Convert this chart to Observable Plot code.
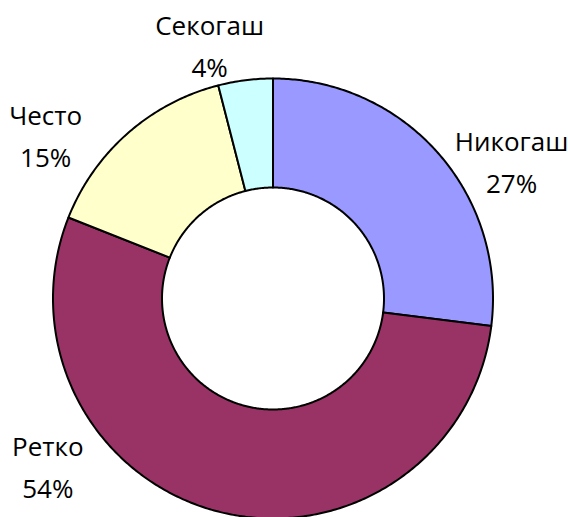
<!DOCTYPE html>
<html>
<head>
<meta charset="utf-8">
<script src="https://cdn.jsdelivr.net/npm/d3@7"></script>
<script src="https://cdn.jsdelivr.net/npm/@observablehq/plot@0.6"></script>
<style>
  html, body { margin: 0; padding: 0; background: #ffffff; }
  #chart svg { display: block; overflow: visible; }
</style>
</head>
<body>
<div id="chart"></div>
<script>
// Data
const categories = ["Никогаш", "Ретко", "Често", "Секогаш"];
const percents = [27, 54, 15, 4];
const labels = ["Никогаш\n27%", "Ретко\n54%", "Често\n15%", "Секогаш\n4%"];
const colors = ["#9999FF", "#993366", "#FFFFCC", "#CCFFFF"];
// label nudges (pixels, y up) away from the mid-angle anchor
const labelNudge = [[51, -25], [-163, 77], [-62, -22], [-32, 8]];

const W = 568, H = 517;
const cx = 272.5, cy = 298;
const R = 220, r0 = 111;

const total = d3.sum(percents);
let acc = 0;
const slices = categories.map((c, i) => {
  const a0 = acc / total * 2 * Math.PI;
  acc += percents[i];
  const a1 = acc / total * 2 * Math.PI;
  return {cat: c, a0, a1, label: labels[i], i};
});

// polygon points for each donut slice
const pts = [];
for (const s of slices) {
  const n = Math.max(8, Math.ceil((s.a1 - s.a0) / 0.01));
  const ring = [];
  for (let k = 0; k <= n; k++) {
    const a = s.a0 + (s.a1 - s.a0) * k / n;
    ring.push({cat: s.cat, x: R * Math.sin(a), y: R * Math.cos(a)});
  }
  for (let k = n; k >= 0; k--) {
    const a = s.a0 + (s.a1 - s.a0) * k / n;
    ring.push({cat: s.cat, x: r0 * Math.sin(a), y: r0 * Math.cos(a)});
  }
  ring.push({...ring[0]});
  pts.push(...ring);
}

const labelData = slices.map(s => {
  const m = (s.a0 + s.a1) / 2;
  const rl = 250;
  return {
    label: s.label,
    x: rl * Math.sin(m) + labelNudge[s.i][0],
    y: rl * Math.cos(m) + labelNudge[s.i][1]
  };
});

const chart = Plot.plot({
  width: W,
  height: H,
  margin: 0,
  x: {domain: [-cx, W - cx], axis: null},
  y: {domain: [cy - H, cy], axis: null},
  color: {domain: categories, range: colors},
  style: {fontFamily: "'Open Sans', sans-serif", background: "#ffffff"},
  marks: [
    Plot.line(pts, {x: "x", y: "y", z: "cat", fill: "cat", stroke: "#000000", strokeWidth: 2, strokeLinejoin: "round"}),
    Plot.text(labelData, {x: "x", y: "y", text: "label", fontSize: 26, lineHeight: 1.615, fill: "#000000", textAnchor: "middle"})
  ]
});
document.getElementById("chart").appendChild(chart);
</script>
</body>
</html>
